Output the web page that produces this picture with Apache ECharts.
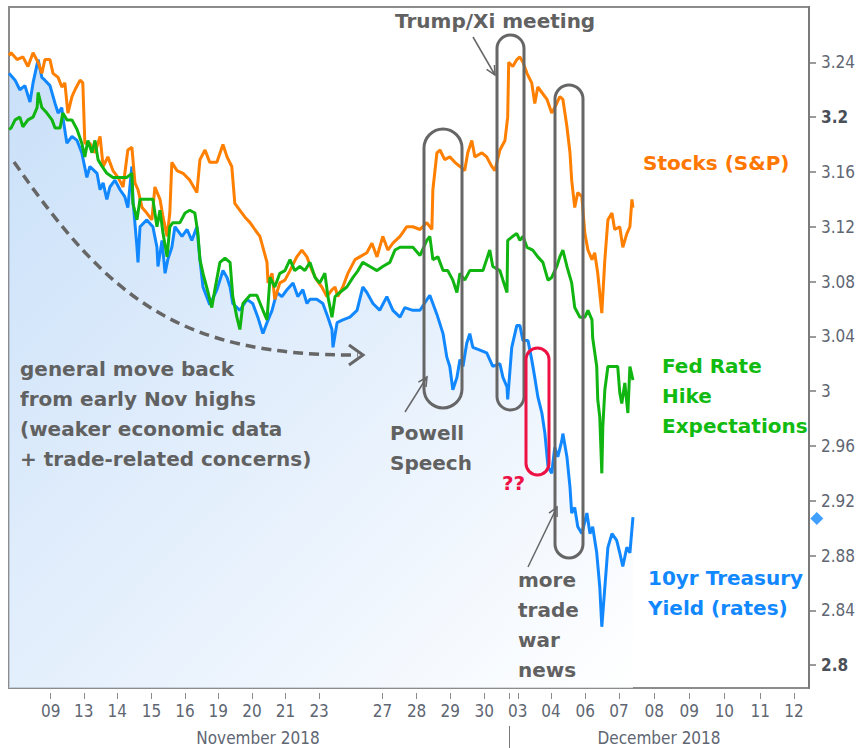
<!DOCTYPE html>
<html><head><meta charset="utf-8">
<script src="https://cdn.jsdelivr.net/npm/echarts@6/dist/echarts.min.js"></script>
<style>html,body{margin:0;padding:0;background:#fff}#c{width:864px;height:748px}</style>
</head><body><div id="c"></div>
<script>
// x positions are trading-session positions (0 = Nov 09 session)
const tickDays = [0.02,1.00,1.99,3.00,3.99,4.97,5.97,6.96,7.95,9.82,10.83,11.82,12.83,13.82,14.80,15.81,16.81,17.85,18.88,19.92,20.98,21.98];
const tickLabels = ['09','13','14','15','16','19','20','21','23','27','28','29','30','03','04','06','07','08','09','10','11','12'];
const monthSeparator = 13.56;
const monthNames = ['November 2018','December 2018'];
const yTicks = [2.80,2.84,2.88,2.92,2.96,3.00,3.04,3.08,3.12,3.16,3.20,3.24];
const boldTicks = [2.80,3.20];

const tsyYield = [[-1.21,3.232],[-1.03,3.227],[-0.89,3.220],[-0.74,3.223],[-0.59,3.211],[-0.50,3.225],[-0.35,3.242],[-0.24,3.229],[-0.15,3.227],[0,3.223],[0.15,3.210],[0.24,3.203],[0.35,3.207],[0.38,3.200],[0.50,3.181],[0.65,3.186],[0.80,3.183],[0.94,3.174],[1.09,3.156],[1.18,3.164],[1.39,3.159],[1.48,3.147],[1.57,3.152],[1.68,3.140],[1.77,3.149],[1.92,3.154],[2.07,3.147],[2.21,3.142],[2.30,3.134],[2.42,3.164],[2.45,3.140],[2.57,3.105],[2.60,3.094],[2.66,3.120],[2.86,3.125],[3.04,3.120],[3.16,3.105],[3.19,3.091],[3.31,3.110],[3.40,3.086],[3.48,3.096],[3.60,3.105],[3.69,3.120],[3.90,3.113],[4.05,3.118],[4.19,3.110],[4.34,3.120],[4.43,3.096],[4.52,3.076],[4.72,3.063],[4.93,3.074],[5.11,3.088],[5.23,3.083],[5.32,3.076],[5.40,3.064],[5.61,3.059],[5.82,3.067],[5.99,3.064],[6.14,3.054],[6.29,3.042],[6.41,3.050],[6.56,3.059],[6.70,3.072],[6.85,3.069],[7.00,3.074],[7.18,3.079],[7.32,3.069],[7.47,3.074],[7.59,3.064],[7.68,3.067],[7.88,3.067],[8.06,3.064],[8.21,3.054],[8.33,3.045],[8.36,3.032],[8.48,3.050],[8.65,3.052],[8.86,3.054],[9.07,3.059],[9.24,3.076],[9.36,3.072],[9.54,3.064],[9.74,3.059],[9.95,3.069],[10.13,3.059],[10.34,3.054],[10.48,3.061],[10.72,3.059],[10.93,3.059],[11.22,3.070],[11.43,3.056],[11.61,3.042],[11.72,3.025],[11.81,3.018],[11.90,3.001],[12.02,3.010],[12.11,3.023],[12.20,3.018],[12.31,3.035],[12.40,3.042],[12.49,3.032],[12.70,3.030],[12.90,3.028],[13.08,3.018],[13.29,3.020],[13.38,3.010],[13.50,3.003],[13.52,2.994],[13.64,3.032],[13.79,3.048],[13.88,3.048],[13.97,3.037],[14.12,3.037],[14.23,3.023],[14.32,3.010],[14.41,2.996],[14.53,2.984],[14.62,2.969],[14.71,2.945],[14.82,2.940],[14.91,2.959],[15.00,2.952],[15.12,2.964],[15.15,2.969],[15.27,2.952],[15.36,2.930],[15.41,2.911],[15.50,2.915],[15.59,2.901],[15.71,2.896],[15.86,2.911],[15.95,2.896],[16.03,2.901],[16.15,2.882],[16.24,2.857],[16.30,2.828],[16.39,2.857],[16.48,2.886],[16.60,2.896],[16.74,2.891],[16.83,2.882],[16.92,2.872],[17.04,2.886],[17.13,2.882],[17.22,2.908]];

const sp500 = [[-1.21,3.245],[-1.15,3.247],[-0.97,3.242],[-0.80,3.244],[-0.65,3.237],[-0.50,3.247],[-0.35,3.240],[-0.24,3.232],[-0.15,3.242],[0,3.242],[0.09,3.232],[0.24,3.229],[0.35,3.222],[0.44,3.225],[0.53,3.203],[0.65,3.215],[0.74,3.220],[0.89,3.227],[0.97,3.225],[1.03,3.181],[1.18,3.181],[1.33,3.174],[1.48,3.186],[1.57,3.164],[1.71,3.171],[1.86,3.161],[2.01,3.156],[2.16,3.149],[2.30,3.176],[2.42,3.178],[2.51,3.152],[2.60,3.147],[2.72,3.134],[2.86,3.130],[3.01,3.125],[3.10,3.149],[3.25,3.140],[3.34,3.127],[3.46,3.113],[3.54,3.130],[3.60,3.167],[3.75,3.161],[3.93,3.159],[4.13,3.154],[4.34,3.145],[4.43,3.169],[4.58,3.176],[4.72,3.167],[4.93,3.167],[5.11,3.180],[5.23,3.171],[5.37,3.164],[5.46,3.137],[5.61,3.132],[5.76,3.127],[5.91,3.123],[6.05,3.118],[6.20,3.113],[6.29,3.105],[6.41,3.094],[6.44,3.079],[6.56,3.086],[6.64,3.067],[6.79,3.079],[6.94,3.081],[7.09,3.088],[7.29,3.098],[7.44,3.103],[7.59,3.098],[7.74,3.088],[7.88,3.081],[8.03,3.076],[8.18,3.069],[8.33,3.074],[8.42,3.076],[8.50,3.069],[8.65,3.076],[8.80,3.086],[9.01,3.096],[9.15,3.098],[9.36,3.101],[9.51,3.108],[9.66,3.098],[9.83,3.113],[9.98,3.103],[10.13,3.108],[10.34,3.113],[10.54,3.120],[10.72,3.120],[10.93,3.118],[11.13,3.123],[11.28,3.118],[11.31,3.147],[11.43,3.174],[11.52,3.176],[11.66,3.169],[11.81,3.171],[11.96,3.167],[12.11,3.164],[12.25,3.161],[12.34,3.174],[12.46,3.183],[12.55,3.171],[12.76,3.174],[12.90,3.171],[13.05,3.164],[13.14,3.161],[13.29,3.176],[13.44,3.183],[13.52,3.200],[13.55,3.240],[13.67,3.237],[13.79,3.242],[13.88,3.244],[13.97,3.240],[14.09,3.232],[14.23,3.225],[14.32,3.210],[14.41,3.222],[14.53,3.218],[14.68,3.213],[14.82,3.203],[14.91,3.207],[15.06,3.215],[15.15,3.213],[15.27,3.193],[15.36,3.174],[15.41,3.154],[15.50,3.134],[15.59,3.145],[15.71,3.142],[15.80,3.115],[15.89,3.103],[16.01,3.096],[16.09,3.101],[16.18,3.086],[16.30,3.057],[16.39,3.096],[16.48,3.125],[16.60,3.130],[16.68,3.118],[16.83,3.120],[16.92,3.105],[17.04,3.115],[17.13,3.120],[17.19,3.140],[17.22,3.134]];

const fedHike = [[-1.21,3.191],[-1.15,3.192],[-1.03,3.198],[-0.89,3.200],[-0.80,3.193],[-0.65,3.198],[-0.50,3.200],[-0.38,3.207],[-0.35,3.218],[-0.24,3.207],[-0.09,3.203],[0.06,3.198],[0.15,3.192],[0.30,3.192],[0.38,3.203],[0.50,3.198],[0.65,3.198],[0.80,3.191],[0.94,3.181],[1.03,3.171],[1.12,3.183],[1.24,3.174],[1.33,3.183],[1.42,3.169],[1.54,3.164],[1.68,3.159],[1.86,3.156],[2.07,3.156],[2.27,3.156],[2.42,3.159],[2.45,3.137],[2.57,3.125],[2.66,3.140],[2.86,3.140],[3.04,3.140],[3.16,3.120],[3.25,3.132],[3.34,3.115],[3.46,3.098],[3.54,3.120],[3.63,3.123],[3.84,3.123],[3.99,3.130],[4.13,3.132],[4.28,3.130],[4.37,3.115],[4.43,3.096],[4.52,3.086],[4.67,3.072],[4.78,3.061],[4.87,3.074],[5.02,3.094],[5.17,3.097],[5.32,3.094],[5.40,3.069],[5.52,3.054],[5.61,3.045],[5.70,3.064],[5.91,3.070],[6.11,3.070],[6.29,3.059],[6.41,3.052],[6.50,3.083],[6.64,3.076],[6.79,3.086],[6.94,3.088],[7.09,3.096],[7.23,3.088],[7.38,3.091],[7.53,3.088],[7.68,3.094],[7.83,3.083],[7.97,3.079],[8.12,3.086],[8.21,3.069],[8.33,3.054],[8.42,3.069],[8.56,3.072],[8.77,3.076],[8.95,3.083],[9.10,3.088],[9.24,3.094],[9.45,3.091],[9.66,3.088],[9.83,3.091],[10.04,3.094],[10.19,3.103],[10.34,3.105],[10.54,3.105],[10.72,3.105],[10.93,3.099],[11.13,3.110],[11.22,3.113],[11.31,3.096],[11.46,3.098],[11.61,3.088],[11.75,3.088],[11.90,3.081],[12.02,3.072],[12.11,3.086],[12.25,3.081],[12.40,3.088],[12.61,3.088],[12.79,3.088],[12.99,3.103],[13.08,3.091],[13.29,3.088],[13.38,3.081],[13.50,3.072],[13.52,3.110],[13.67,3.113],[13.79,3.115],[13.88,3.110],[13.97,3.113],[14.09,3.105],[14.26,3.103],[14.41,3.098],[14.56,3.094],[14.71,3.081],[14.82,3.083],[14.97,3.091],[15.06,3.098],[15.15,3.103],[15.27,3.091],[15.41,3.079],[15.50,3.061],[15.65,3.054],[15.80,3.054],[15.89,3.059],[16.01,3.052],[16.03,3.039],[16.15,3.018],[16.18,2.994],[16.24,2.981],[16.30,2.940],[16.33,2.974],[16.39,3.001],[16.48,3.018],[16.63,3.018],[16.77,3.018],[16.83,2.999],[16.89,2.991],[16.98,3.006],[17.07,2.984],[17.13,3.018],[17.22,3.008]];

const lastYield = 2.907;
const lastYieldPos = 22.65;

const AX_FONT = '"DejaVu Sans Condensed", "DejaVu Sans", sans-serif';
const ANN_FONT = '"DejaVu Sans", sans-serif';
const GRAY = '#616161';

function arrow(x1, y1, x2, y2, color, lw, head) {
  const dx = x2 - x1, dy = y2 - y1, L = Math.hypot(dx, dy);
  const ux = dx / L, uy = dy / L, px = -uy, py = ux;
  const bx = x2 - ux * head, by = y2 - uy * head;
  return [
    { type: 'line', z: 100, shape: { x1, y1, x2, y2 }, style: { stroke: color, lineWidth: lw } },
    { type: 'polyline', z: 100, shape: { points: [[bx + px * head * 0.5, by + py * head * 0.5], [x2, y2], [bx - px * head * 0.5, by - py * head * 0.5]] }, style: { stroke: color, lineWidth: lw, fill: 'none' } }
  ];
}
function txt(x, y, text, color) {
  return { type: 'text', z: 100, x, y, style: { text, fill: color, fontSize: 20, fontWeight: 'bold', fontFamily: ANN_FONT, lineHeight: 30, verticalAlign: 'top', align: 'left' } };
}
function pill(x, y, w, h, color) {
  return { type: 'rect', z: 100, shape: { x, y, width: w, height: h, r: w / 2 }, style: { fill: 'none', stroke: color, lineWidth: 3 } };
}

const chart = echarts.init(document.getElementById('c'), null, { renderer: 'svg' });
const fmtY = v => String(parseFloat(Number(v).toFixed(2)));

chart.setOption({
  animation: false,
  backgroundColor: '#ffffff',
  grid: { left: 9, right: 55, top: 7, bottom: 60, show: true, borderColor: '#8c8c8c', borderWidth: 2, backgroundColor: 'transparent' },
  xAxis: {
    type: 'value', min: -1.21, max: 22.42, offset: 5,
    axisLine: { show: false, onZero: false },
    splitLine: { show: false },
    axisTick: { show: true, customValues: tickDays.concat([monthSeparator]), length: 6, lineStyle: { color: '#8a8a8a', width: 1 } },
    axisLabel: {
      customValues: tickDays, margin: 9, color: '#606672', fontSize: 17, fontFamily: AX_FONT,
      formatter: v => { const i = tickDays.findIndex(d => Math.abs(d - v) < 1e-6); return i >= 0 ? tickLabels[i] : ''; }
    }
  },
  yAxis: {
    type: 'value', position: 'right', min: 2.7833, max: 3.2804, scale: true,
    axisLine: { show: true, onZero: false, lineStyle: { color: '#7a7a7a', width: 2 } },
    splitLine: { show: false },
    axisTick: { show: true, customValues: yTicks, length: 7, lineStyle: { color: '#7a7a7a', width: 1.5 } },
    axisLabel: {
      customValues: yTicks, margin: 12, color: '#606672', fontSize: 17, fontFamily: AX_FONT,
      formatter: v => boldTicks.some(b => Math.abs(b - v) < 1e-6) ? '{b|' + fmtY(v) + '}' : fmtY(v),
      rich: { b: { fontWeight: 'bold', color: '#4a4f58', fontSize: 17, fontFamily: AX_FONT } }
    }
  },
  series: [
    {
      name: '10yr Treasury Yield (rates)', type: 'line', data: tsyYield, symbol: 'none', z: 2,
      lineStyle: { color: '#1188ff', width: 3 },
      areaStyle: { color: new echarts.graphic.LinearGradient(0, 0, 1, 1, [{ offset: 0, color: '#b2d3f6' }, { offset: 0.5, color: '#d8e8fb' }, { offset: 1, color: '#ffffff' }]) }
    },
    { name: 'Stocks (S&P)', type: 'line', data: sp500, symbol: 'none', z: 3, lineStyle: { color: '#ff7f00', width: 3 } },
    { name: 'Fed Rate Hike Expectations', type: 'line', data: fedHike, symbol: 'none', z: 4, lineStyle: { color: '#11b511', width: 3 } },
    { name: 'last yield', type: 'scatter', data: [[lastYieldPos, lastYield]], symbol: 'diamond', symbolSize: 13, clip: false, silent: true, itemStyle: { color: '#1188ff' }, z: 5 }
  ],
  graphic: [
    // month captions and separator
    { type: 'text', z: 100, x: 258, y: 738, style: { text: monthNames[0], fill: '#606672', fontSize: 17, fontFamily: AX_FONT, align: 'center', verticalAlign: 'middle' } },
    { type: 'text', z: 100, x: 659, y: 738, style: { text: monthNames[1], fill: '#606672', fontSize: 17, fontFamily: AX_FONT, align: 'center', verticalAlign: 'middle' } },
    { type: 'line', z: 100, shape: { x1: 509.5, y1: 726, x2: 509.5, y2: 748 }, style: { stroke: '#7a7a7a', lineWidth: 1 } },
    // dashed trend curve
    { type: 'bezierCurve', z: 100, shape: { x1: 14, y1: 162, cpx1: 110, cpy1: 300, cpx2: 180, cpy2: 356, x2: 358, y2: 355 }, style: { stroke: '#666', lineWidth: 3.5, lineDash: [10, 6], fill: 'none' } },
    { type: 'polyline', z: 100, shape: { points: [[349, 345], [363, 355], [349, 365]] }, style: { stroke: '#666', lineWidth: 3, fill: 'none' } },
    // event pills
    pill(424, 129, 38, 279, '#666'),
    pill(497, 35, 27, 375, '#666'),
    pill(555, 85, 28, 473, '#666'),
    pill(526, 348, 23, 127, '#ee1144'),
    // pointer arrows
    ...arrow(473, 37, 495, 75, '#666', 1.5, 9),
    ...arrow(405, 412, 427, 377, '#666', 1.5, 9),
    ...arrow(528, 567, 557, 507, '#666', 1.5, 9),
    // annotation texts
    txt(20, 354, 'general move back\nfrom early Nov highs\n(weaker economic data\n+ trade-related concerns)', GRAY),
    txt(390, 418, 'Powell\nSpeech', GRAY),
    txt(395, 6, 'Trump/Xi meeting', GRAY),
    txt(518, 565, 'more\ntrade\nwar\nnews', GRAY),
    txt(502, 468, '??', '#ee1144'),
    txt(643, 148, 'Stocks (S&P)', '#ff7700'),
    txt(662, 351, 'Fed Rate\nHike\nExpectations', '#11bb11'),
    txt(648, 563, '10yr Treasury\nYield (rates)', '#1188ff')
  ]
});
</script>
</body></html>
